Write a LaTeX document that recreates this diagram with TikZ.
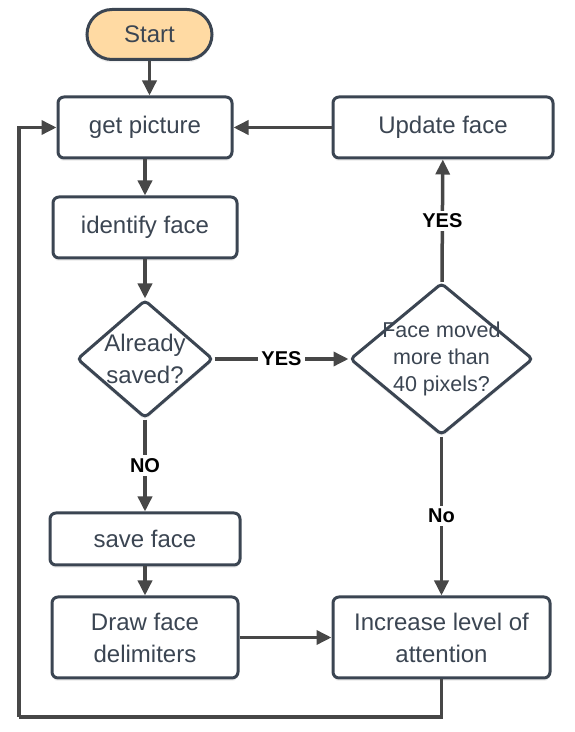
\documentclass[tikz,border=0pt]{standalone}
\usepackage{fontspec}
\setmainfont{Liberation Sans}
\usepackage{tikz}
\usetikzlibrary{arrows.meta,shapes,shadows}
\usetikzlibrary{shapes.geometric}
\definecolor{boxline}{HTML}{3B4552}
\definecolor{conline}{HTML}{474747}
\definecolor{startfill}{HTML}{FFDAA3}
\tikzstyle{startstop} = [rectangle, rounded corners=25pt, minimum width=125pt, minimum height=50pt, text centered, draw=boxline, line width=3pt, fill=startfill, text=boxline, font=\fontsize{24}{32}\selectfont, drop shadow={opacity=0.12, shadow xshift=0pt, shadow yshift=-3pt}]
\tikzstyle{process} = [rectangle, rounded corners=6pt, minimum width=184pt, minimum height=61pt, text centered, align=center, draw=boxline, line width=3pt, fill=white, text=boxline, inner sep=0pt, font=\fontsize{24}{32}\selectfont, drop shadow={opacity=0.12, shadow xshift=0pt, shadow yshift=-3pt}]
\tikzstyle{decision} = [diamond, rounded corners=4pt, minimum width=136pt, minimum height=118pt, draw=boxline, line width=3pt, fill=white, inner sep=0pt, drop shadow={opacity=0.12, shadow xshift=0pt, shadow yshift=-3pt}]
\tikzstyle{dtext} = [text=boxline, align=center, inner sep=0pt]
\tikzstyle{arrow} = [line width=3.5pt, draw=conline, -{Triangle[length=15pt,width=14pt]}]
\tikzstyle{line} = [line width=3.5pt, draw=conline]
\tikzstyle{lbl} = [fill=white, inner sep=3pt, font=\fontsize{20}{24}\selectfont\bfseries]

\begin{document}
\begin{tikzpicture}[x=1pt, y=1pt, node distance=100pt]
                    \useasboundingbox (0,0) rectangle (575,732);
                    \node (start) [startstop] at (149.5,697.5) {Start};
                    \node (get) [process, below of=start, yshift=7pt, xshift=-4.5pt, minimum width=174pt] {get picture};
                    \node (ident) [process, below of=get] {identify face};
                    \node (saved) [decision, below of=ident, yshift=-31.5pt, label={[dtext, font=\fontsize{24}{32}\selectfont]center:Already\\saved?}] {};
                    \node (save) [process, below of=saved, yshift=-80pt, minimum width=190pt, minimum height=52pt] {save face};
                    \node (delim) [process, below of=save, yshift=1.5pt, minimum width=186pt, minimum height=81pt] {Draw face\\delimiters};
                    \node (moved) [decision, right of=saved, xshift=196.5pt, minimum width=183pt, minimum height=152pt, label={[dtext, font=\fontsize{21.5}{27}\selectfont]center:Face moved\\more than\\40 pixels?}] {};
                    \node (update) [process, above of=moved, yshift=131.5pt, xshift=1.5pt, minimum width=220pt] {Update face};
                    \node (incr) [process, below of=moved, yshift=-178.5pt, minimum width=217pt, minimum height=81pt] {Increase level of\\attention};
                    \coordinate (corner) at (19,15);
                    \draw [arrow] (start.south) -- (start.south |- get.north);
                    \draw [arrow] (get) -- (ident);
                    \draw [arrow] (ident) -- (saved);
                    \draw [arrow] (saved) -- node [lbl] {NO} (save);
                    \draw [arrow] (save) -- (delim);
                    \draw [arrow] (delim) -- (incr);
                    \draw [arrow] (saved) -- node [lbl] {YES} (moved);
                    \draw [arrow] (moved) -- node [lbl] {YES} (update);
                    \draw [arrow] (moved) -- node [lbl] {No} (incr);
                    \draw [arrow] (update) -- (get);
                    \draw [line] (incr.south) |- (corner);
                    \draw [arrow] (corner) |- (get.west);
                \end{tikzpicture}
\end{document}
